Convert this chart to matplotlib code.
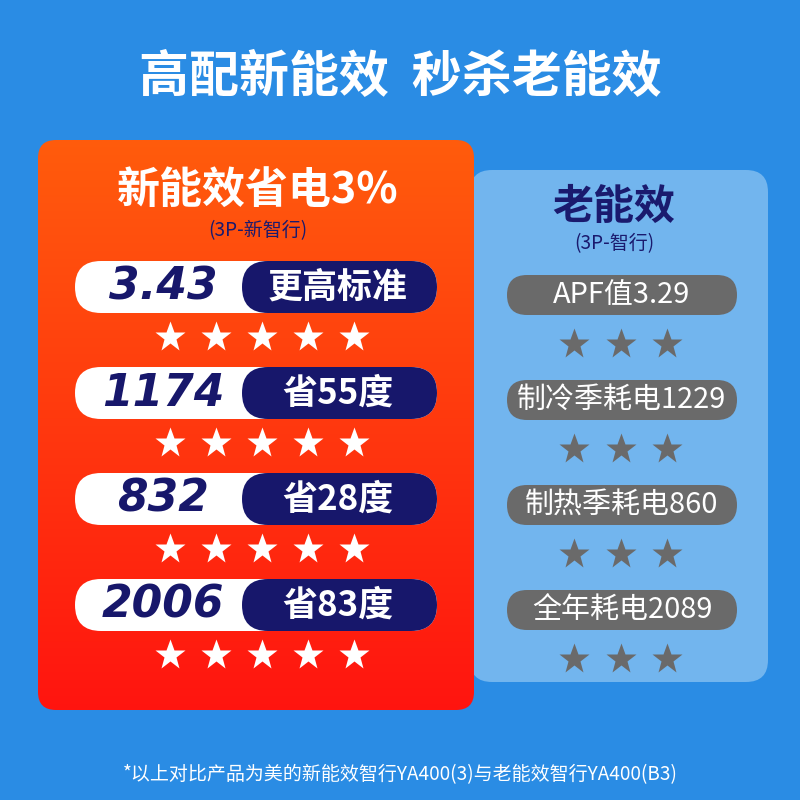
import matplotlib
matplotlib.use("Agg")
import matplotlib.pyplot as plt
from matplotlib.patches import FancyBboxPatch
import numpy as np

plt.rcParams['font.family'] = ['Noto Sans CJK SC', 'DejaVu Sans']

title = "高配新能效  秒杀老能效"
new_title = "新能效省电3%"
new_sub = "(3P-新智行)"
new_values = ["3.43", "1174", "832", "2006"]
new_labels = ["更高标准", "省55度", "省28度", "省83度"]
new_stars = [5, 5, 5, 5]
old_title = "老能效"
old_sub = "(3P-智行)"
old_labels = ["APF值3.29", "制冷季耗电1229", "制热季耗电860", "全年耗电2089"]
old_stars = [3, 3, 3, 3]
footnote = "*以上对比产品为美的新能效智行YA400(3)与老能效智行YA400(B3)"

PX = 0.72
fig = plt.figure(figsize=(8, 8), dpi=100)
ax = fig.add_axes([0, 0, 1, 1])
ax.set_xlim(0, 800); ax.set_ylim(800, 0); ax.axis('off')
fig.patch.set_facecolor('#2A8CE4')

def rbox(x, y, w, h, r, **kw):
    p = FancyBboxPatch((x + r, y + r), w - 2 * r, h - 2 * r,
                       boxstyle=f"round,pad={r}", **kw)
    ax.add_patch(p)
    return p

ax.text(400, 78, title, ha='center', va='center', color='white',
        fontsize=50 * PX, fontweight='heavy')

rbox(470, 170, 298, 512, 22, facecolor='#72B5EE', edgecolor='none', zorder=1)
p = rbox(38, 140, 436, 570, 18, facecolor='none', edgecolor='none', zorder=2)
grad = np.linspace(0, 1, 256)[:, None]
cols = np.array([1.0, 0.36, 0.05]) * (1 - grad[..., None]) + np.array([1.0, 0.08, 0.06]) * grad[..., None]
im = ax.imshow(np.repeat(cols, 2, axis=1), extent=(38, 474, 710, 140), aspect='auto', zorder=2)
im.set_clip_path(p)

ax.text(258, 190, new_title, ha='center', va='center', color='white',
        fontsize=43 * PX, fontweight='heavy', zorder=5)
ax.text(258, 231, new_sub, ha='center', va='center', color='#1A1A6E',
        fontsize=19 * PX, zorder=5)
navy = '#17176B'
for i, (v, l, ns) in enumerate(zip(new_values, new_labels, new_stars)):
    yc = 287 + 106 * i
    rbox(75, yc - 26, 362, 52, 26, facecolor='white', edgecolor='none', zorder=4)
    rbox(242, yc - 26, 195, 52, 26, facecolor=navy, edgecolor='none', zorder=5)
    ax.text(163, yc, v, ha='center', va='center', color=navy, fontsize=44 * PX,
            fontweight='bold', style='italic', family='DejaVu Sans', zorder=6)
    ax.text(338, yc, l, ha='center', va='center', color='white', fontsize=35 * PX,
            fontweight='heavy', zorder=6)
    for k in range(ns):
        ax.plot(170 + 46 * k, yc + 50, marker='*', ms=23, color='white',
                mec='none', zorder=6)

ax.text(614, 207, old_title, ha='center', va='center', color='#1A1A6E',
        fontsize=41 * PX, fontweight='heavy', zorder=5)
ax.text(614, 244, old_sub, ha='center', va='center', color='#1A1A6E',
        fontsize=19 * PX, zorder=5)
for i, (l, ns) in enumerate(zip(old_labels, old_stars)):
    yc = 295 + 105 * i
    rbox(507, yc - 20, 230, 40, 20, facecolor='#6A6A6A', edgecolor='none', zorder=4)
    ax.text(622, yc, l, ha='center', va='center', color='white', fontsize=29 * PX, zorder=6)
    for k in range(ns):
        ax.plot(574 + 46.5 * k, yc + 49, marker='*', ms=23, color='#6A6A6A',
                mec='none', zorder=6)

ax.text(400, 775, footnote, ha='center', va='center', color='white', fontsize=19 * PX)
fig.savefig('out.png', dpi=100, facecolor=fig.get_facecolor())
